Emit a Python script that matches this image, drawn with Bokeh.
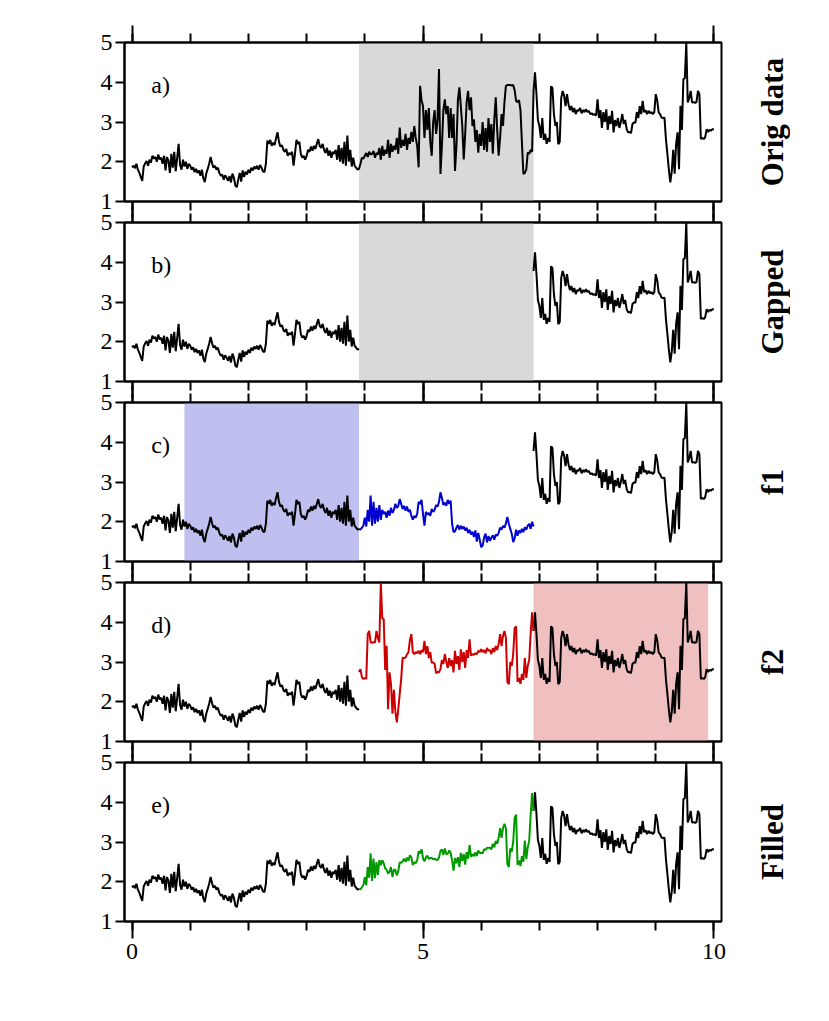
import numpy as np
from bokeh.plotting import figure
from bokeh.layouts import column, row
from bokeh.models import Range1d, SingleIntervalTicker, FixedTicker, BoxAnnotation, Label, LinearAxis
from bokeh.embed import file_html
from bokeh.resources import INLINE

# ---------------- data ----------------
# original series sampled every 0.025 time units, one row per 0.5 units
orig_rows = [
    [1.86, 1.90, 1.84, 1.95, 1.80, 1.72, 1.62, 1.52, 1.88, 1.96, 2.02, 1.90, 2.05, 1.98, 2.15, 2.08, 2.12, 2.00, 2.18, 2.06],
    [2.10, 1.95, 2.15, 1.78, 2.12, 2.02, 1.72, 2.20, 1.85, 2.25, 1.76, 2.10, 2.45, 1.92, 1.80, 2.05, 1.88, 2.00, 1.82, 1.95],
    [1.90, 1.80, 1.86, 1.74, 1.82, 1.72, 1.78, 1.65, 1.80, 1.58, 1.49, 1.70, 1.82, 1.95, 2.12, 1.96, 1.85, 1.90, 1.80, 1.85],
    [1.72, 1.65, 1.68, 1.55, 1.66, 1.60, 1.52, 1.64, 1.48, 1.70, 1.60, 1.40, 1.36, 1.55, 1.72, 1.50, 1.78, 1.62, 1.75, 1.68],
    [1.80, 1.72, 1.85, 1.78, 1.88, 1.82, 1.90, 1.80, 1.92, 1.85, 1.76, 1.74, 1.95, 2.53, 2.45, 2.55, 2.40, 2.48, 2.42, 2.60],
    [2.74, 2.50, 2.38, 2.42, 2.30, 2.25, 2.32, 2.15, 2.22, 2.18, 2.25, 1.90, 2.20, 2.55, 2.45, 2.50, 2.20, 2.10, 2.15, 2.05],
    [2.15, 2.30, 2.25, 2.38, 2.28, 2.40, 2.32, 2.45, 2.57, 2.40, 2.35, 2.45, 2.30, 2.22, 2.35, 2.15, 2.28, 2.10, 2.25, 2.20],
    [2.30, 2.05, 2.42, 2.00, 2.35, 1.95, 2.50, 1.90, 2.66, 2.00, 2.30, 1.88, 2.10, 1.90, 1.85, 1.80, 1.82, 1.95, 2.10, 2.08],
    [2.15, 2.22, 2.12, 2.25, 2.18, 2.20, 2.27, 2.10, 2.22, 2.18, 2.35, 2.05, 2.40, 2.15, 2.30, 2.20, 2.55, 2.10, 2.45, 2.25],
    [2.40, 2.30, 2.60, 2.20, 2.86, 2.35, 2.55, 2.40, 2.70, 2.30, 2.60, 2.45, 2.75, 2.50, 2.90, 2.60, 2.40, 1.86, 3.91, 3.55],
    [3.40, 2.60, 3.30, 2.80, 3.35, 2.50, 2.15, 3.00, 3.30, 2.70, 3.05, 4.33, 1.69, 2.40, 3.30, 3.57, 3.20, 3.40, 2.60, 3.35],
    [2.60, 3.20, 1.77, 2.40, 3.55, 3.87, 3.40, 2.90, 2.06, 2.70, 3.50, 3.78, 3.30, 3.62, 2.90, 3.07, 2.50, 2.80, 2.23, 2.70],
    [2.40, 3.00, 2.30, 2.85, 2.25, 3.10, 2.50, 2.95, 2.20, 3.05, 3.62, 2.80, 2.15, 2.60, 3.20, 2.90, 3.50, 3.91, 3.93, 3.93],
    [3.93, 3.92, 3.93, 3.80, 3.53, 3.50, 3.55, 3.30, 2.48, 1.69, 1.72, 1.80, 2.23, 2.20, 2.30, 2.25, 3.78, 4.25, 3.70, 3.05],
    [2.90, 2.60, 3.10, 2.55, 2.70, 2.45, 2.60, 2.50, 3.90, 3.85, 3.20, 2.90, 3.00, 2.44, 2.50, 3.60, 3.78, 3.66, 3.40, 3.70],
    [3.45, 3.30, 3.40, 3.25, 3.35, 3.20, 3.30, 3.28, 3.35, 3.22, 3.30, 3.25, 3.32, 3.25, 3.28, 3.20, 3.22, 3.18, 3.20, 3.16],
    [3.57, 3.10, 3.30, 2.85, 3.25, 3.00, 3.32, 2.80, 3.15, 2.95, 3.28, 2.74, 3.05, 2.90, 3.10, 2.85, 3.00, 3.20, 2.95, 3.05],
    [2.82, 2.74, 2.75, 2.72, 2.95, 2.99, 2.98, 3.25, 3.10, 3.40, 3.20, 3.53, 3.25, 3.30, 3.20, 3.28, 3.22, 3.25, 3.20, 3.25],
    [3.70, 3.55, 3.24, 3.20, 3.11, 3.10, 3.11, 2.57, 2.20, 1.81, 1.48, 1.75, 2.30, 1.70, 2.45, 2.74, 1.81, 3.41, 2.80, 4.08],
    [4.10, 5.00, 3.49, 3.60, 3.78, 3.49, 3.50, 3.48, 3.50, 3.78, 3.70, 2.57, 2.60, 2.57, 2.62, 2.82, 2.75, 2.80, 2.78, 2.82],
]
orig_last = [2.82]
sample_step = 0.025

gap_start, gap_end = 3.9, 6.9          # removed interval
f1_window = (0.9, 3.9)                 # window used by forecast f1 (mirrored)
f2_window = (6.9, 9.9)                 # window used by forecast f2 (mirrored)

panel_tags = ["a)", "b)", "c)", "d)", "e)"]
panel_names = ["Orig data", "Gapped", "f1", "f2", "Filled"]
y_ticks = [1, 2, 3, 4, 5]

# ---------------- derived series ----------------
orig = np.array(sum(orig_rows, []) + orig_last)
time = np.round(np.arange(len(orig)) * sample_step, 3)
ig0 = int(round(gap_start / sample_step))
ig1 = int(round(gap_end / sample_step))
i1a = int(round(f1_window[0] / sample_step))
i2b = int(round(f2_window[1] / sample_step))
t_gap = time[ig0:ig1 + 1]
f1 = orig[i1a:ig0 + 1][::-1]           # mirrored forward
f2 = orig[ig1:i2b + 1][::-1]           # mirrored backward
w = (t_gap - gap_start) / (gap_end - gap_start)
filled = (1 - w) * f1 + w * f2

# ---------------- styling ----------------
FONT = "Liberation Serif"
BLACK = "#000000"
GRAY = "#d9d9d9"
BLUE_SHADE = "#bfbff0"
RED_SHADE = "#f0bfbf"
BLUE = "#0000d0"
RED = "#cc0000"
GREEN = "#009a00"
LW = 2.0
TICK_MAJOR = 17
TICK_MINOR = 9
BORDER = 17
GAP = 21
OVERLAP = (GAP - 2 * BORDER, 0, 0, 0)


def style_xaxis(ax, show_labels):
    ax.ticker = SingleIntervalTicker(interval=5, num_minor_ticks=5)
    ax.major_tick_out = TICK_MAJOR
    ax.major_tick_in = 0
    ax.minor_tick_out = TICK_MINOR
    ax.minor_tick_in = 0
    ax.major_tick_line_width = 2
    ax.minor_tick_line_width = 2
    ax.axis_line_width = 2
    ax.major_tick_line_color = BLACK
    ax.minor_tick_line_color = BLACK
    ax.axis_line_color = BLACK
    if show_labels:
        ax.major_label_text_font = FONT
        ax.major_label_text_font_size = "24px"
        ax.major_label_text_color = BLACK
        ax.major_label_standoff = 5
    else:
        ax.major_label_text_font_size = "0px"
        ax.major_label_standoff = 0
        ax.major_label_text_color = None


figs = []
name_figs = []
for k in range(5):
    top_b = 42 if k == 0 else BORDER
    bot_b = BORDER if k < 4 else 75
    p = figure(frame_width=597, frame_height=159,
               x_range=Range1d(-0.13, 10.13), y_range=Range1d(1, 5),
               output_backend="svg", toolbar_location=None,
               min_border_left=124, min_border_right=20,
               min_border_top=top_b, min_border_bottom=bot_b)
    if k > 0:
        p.margin = OVERLAP
    p.grid.visible = False
    p.outline_line_color = BLACK
    p.outline_line_width = 2
    p.background_fill_color = "white"
    p.border_fill_alpha = 0

    style_xaxis(p.xaxis[0], k == 4)
    top_ax = LinearAxis()
    style_xaxis(top_ax, False)
    p.add_layout(top_ax, "above")

    ya = p.yaxis[0]
    ya.ticker = FixedTicker(ticks=y_ticks, minor_ticks=[])
    ya.major_tick_out = 9
    ya.major_tick_in = 0
    ya.major_tick_line_width = 2
    ya.axis_line_width = 2
    ya.major_label_text_font = FONT
    ya.major_label_text_font_size = "24px"
    ya.major_label_text_color = BLACK
    ya.major_label_standoff = 3

    # shading
    if k in (0, 1):
        p.add_layout(BoxAnnotation(left=gap_start, right=gap_end, fill_color=GRAY,
                                   fill_alpha=1, line_alpha=0, level="underlay"))
    elif k == 2:
        p.add_layout(BoxAnnotation(left=f1_window[0], right=f1_window[1], fill_color=BLUE_SHADE,
                                   fill_alpha=1, line_alpha=0, level="underlay"))
    elif k == 3:
        p.add_layout(BoxAnnotation(left=f2_window[0], right=f2_window[1], fill_color=RED_SHADE,
                                   fill_alpha=1, line_alpha=0, level="underlay"))

    # lines
    if k == 0:
        p.line(time, orig, line_color=BLACK, line_width=LW)
    else:
        p.line(time[:ig0 + 1], orig[:ig0 + 1], line_color=BLACK, line_width=LW)
        p.line(time[ig1:], orig[ig1:], line_color=BLACK, line_width=LW)
        if k == 2:
            p.line(t_gap, f1, line_color=BLUE, line_width=LW)
        elif k == 3:
            p.line(t_gap, f2, line_color=RED, line_width=LW)
        elif k == 4:
            p.line(t_gap, filled, line_color=GREEN, line_width=LW)

    p.add_layout(Label(x=0.33, y=3.94, text=panel_tags[k], text_font=FONT,
                       text_font_size="24px", text_baseline="middle", text_align="left",
                       text_color=BLACK))
    figs.append(p)

    # narrow companion figure carrying the panel name (reads bottom-to-top, centred)
    q = figure(frame_width=1, frame_height=159,
               x_range=Range1d(0, 1), y_range=Range1d(1, 5),
               output_backend="svg", toolbar_location=None,
               min_border_left=48, min_border_right=0,
               min_border_top=top_b, min_border_bottom=BORDER)
    if k > 0:
        q.margin = OVERLAP
    q.grid.visible = False
    q.outline_line_color = None
    q.background_fill_alpha = 0
    q.border_fill_alpha = 0
    q.xaxis.visible = False
    qa = q.yaxis[0]
    qa.ticker = FixedTicker(ticks=[], minor_ticks=[])
    qa.axis_line_color = None
    qa.major_tick_out = 0
    qa.major_tick_in = 0
    qa.minor_tick_out = 0
    qa.minor_tick_in = 0
    qa.major_label_text_font_size = "0px"
    qa.major_label_standoff = 0
    qa.major_label_text_color = None
    qa.axis_label = panel_names[k]
    qa.axis_label_text_font = FONT
    qa.axis_label_text_font_size = "31px"
    qa.axis_label_text_font_style = "bold"
    qa.axis_label_text_color = BLACK
    qa.axis_label_standoff = 0
    name_figs.append(q)

layout = row(column(*figs, spacing=0), column(*name_figs, spacing=0), spacing=0)
open("out.html", "w").write(file_html(layout, INLINE))
